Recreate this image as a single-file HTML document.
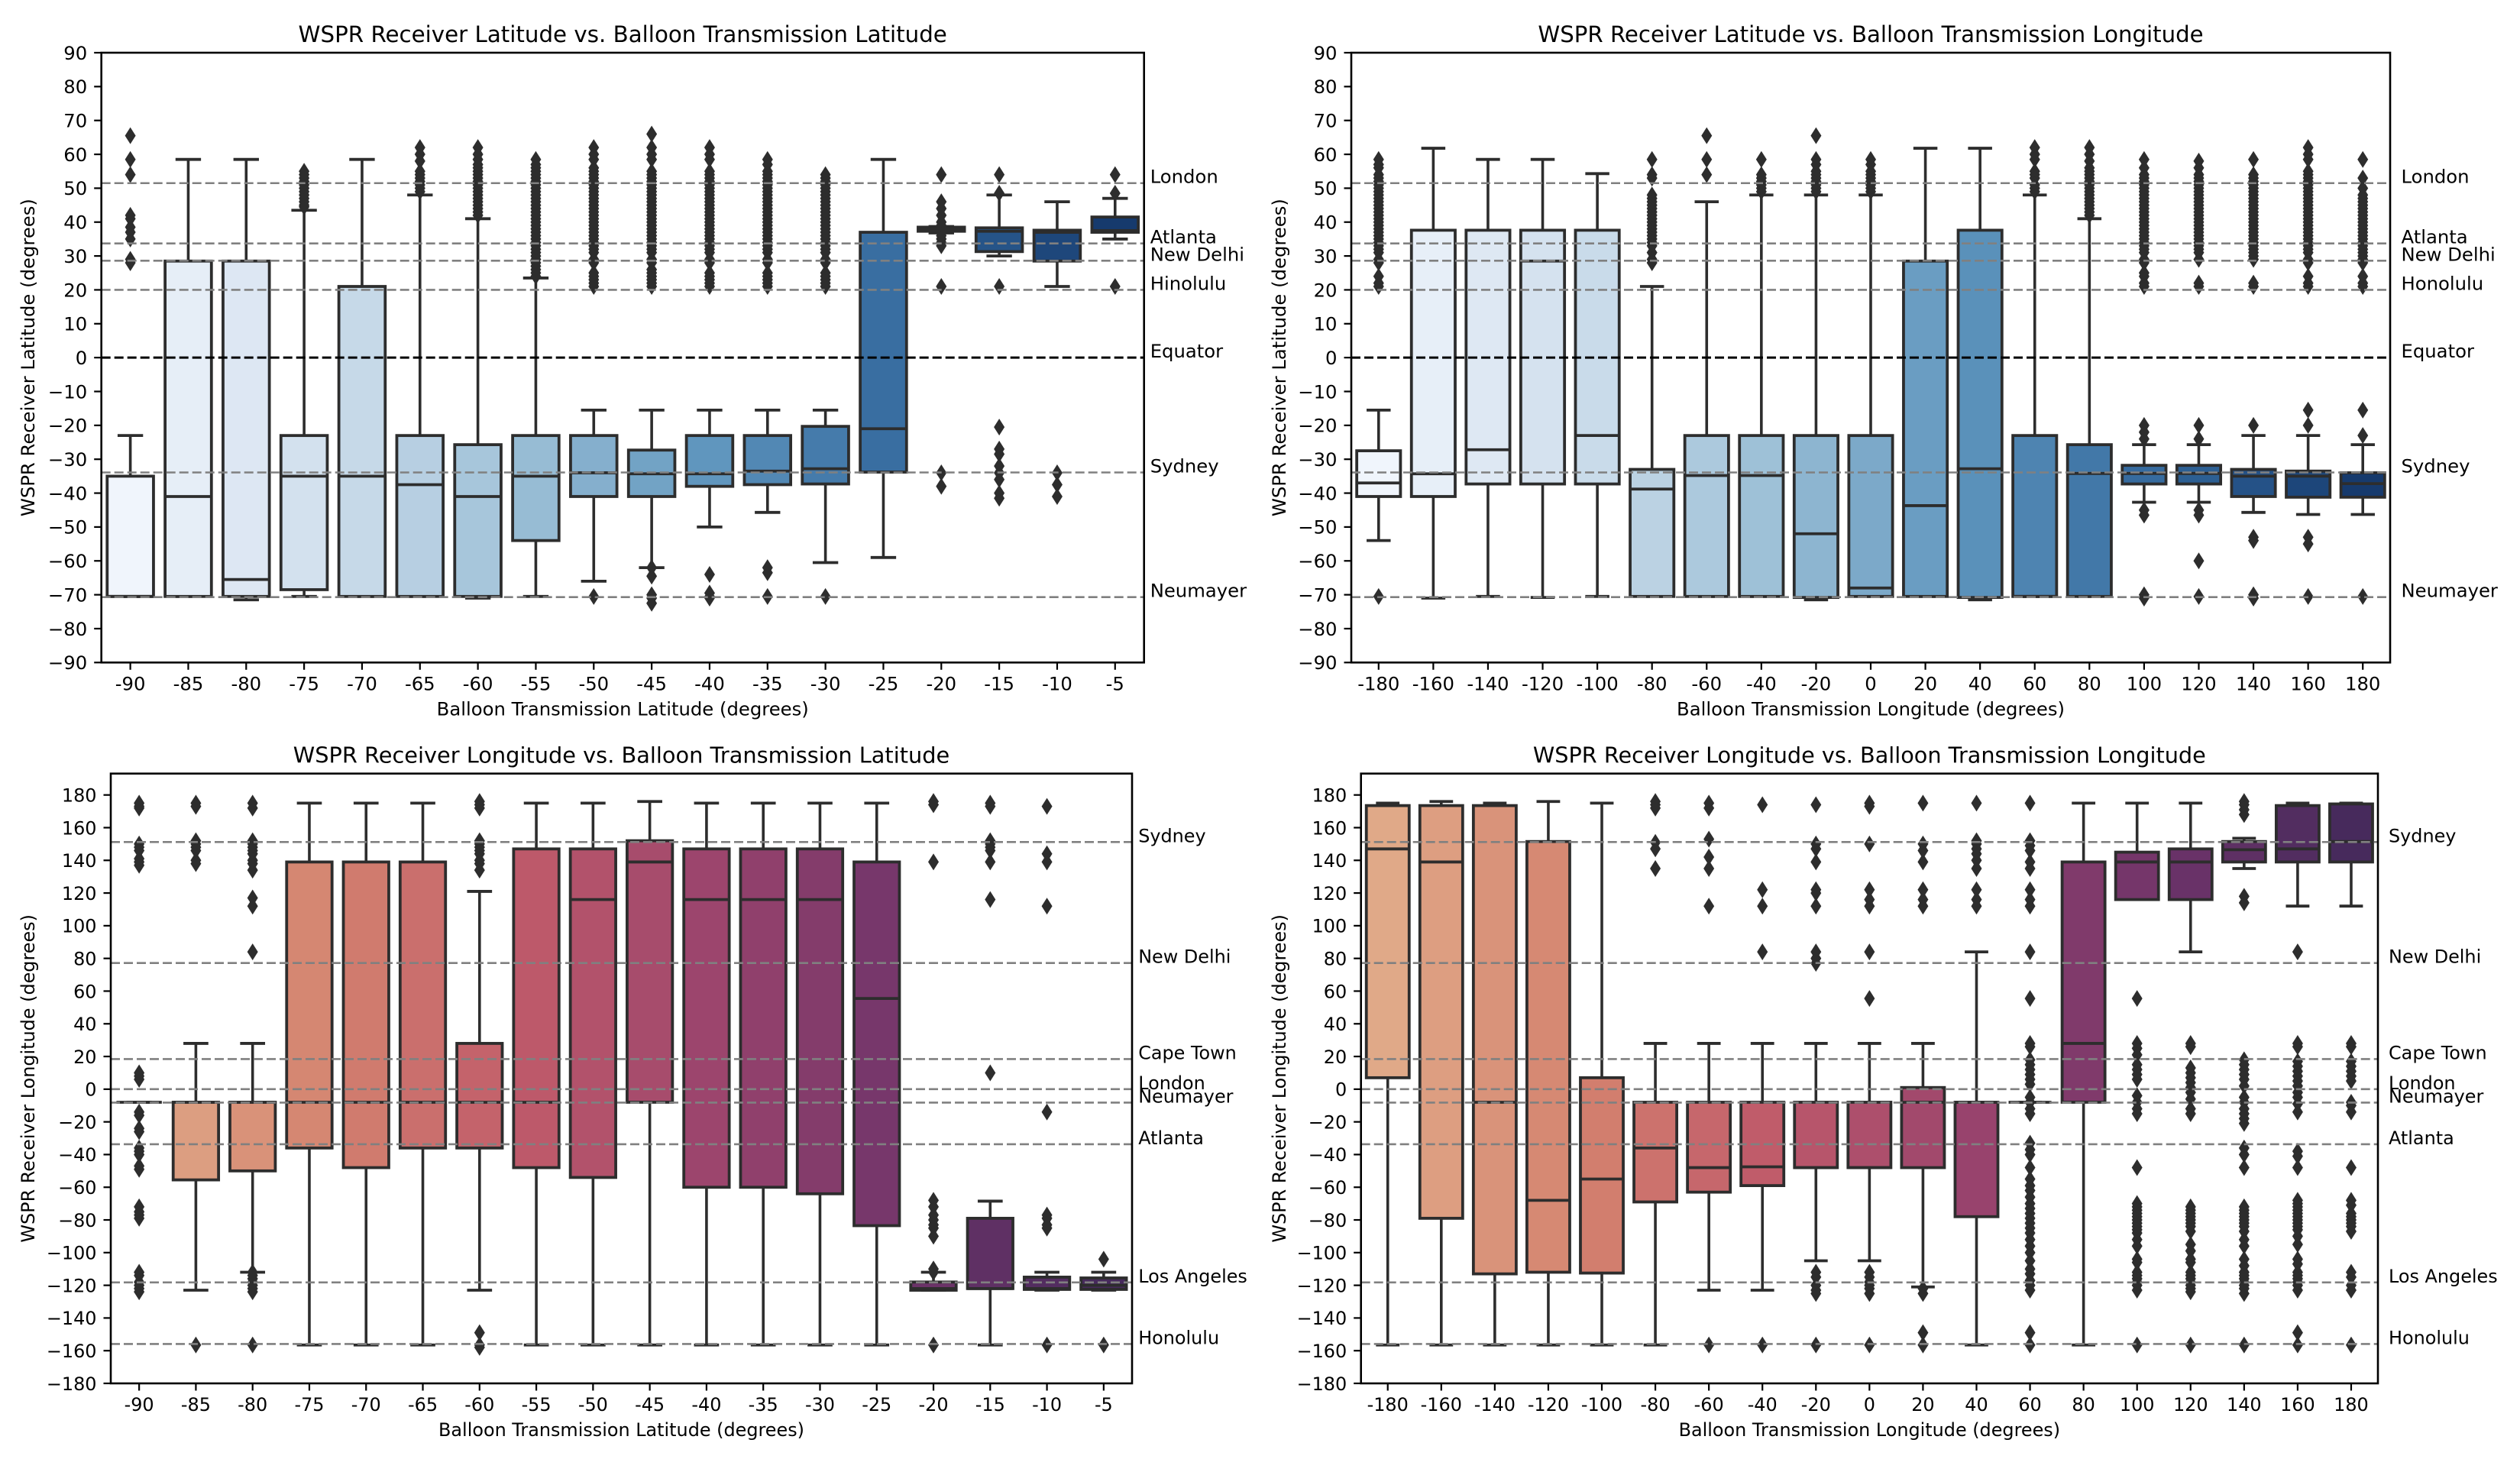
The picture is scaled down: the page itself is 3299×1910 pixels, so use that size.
<!DOCTYPE html>
<html lang="en">
<head>
<meta charset="utf-8">
<title>WSPR Receiver vs. Balloon Transmission Box Plots</title>
<style>
html,body{margin:0;padding:0;background:#fff;width:3299px;height:1910px;overflow:hidden}
svg{display:block}
text{font-family:"DejaVu Sans","Liberation Sans",sans-serif;fill:#000}
</style>
</head>
<body>
<svg id="fig" xmlns="http://www.w3.org/2000/svg" width="3299" height="1910" viewBox="0 0 3299 1910"></svg>
<script>
// ---------- shared categories and ticks ----------
const latCats = [-90,-85,-80,-75,-70,-65,-60,-55,-50,-45,-40,-35,-30,-25,-20,-15,-10,-5];
const lonCats = [-180,-160,-140,-120,-100,-80,-60,-40,-20,0,20,40,60,80,100,120,140,160,180];
const latYTicks = [90,80,70,60,50,40,30,20,10,0,-10,-20,-30,-40,-50,-60,-70,-80,-90];
const lonYTicks = [180,160,140,120,100,80,60,40,20,0,-20,-40,-60,-80,-100,-120,-140,-160,-180];

// ---------- reference lines ----------
const latRefNames = ['London','Atlanta','New Delhi','Equator','Sydney','Neumayer'];
const latRefValues = [51.5,33.7,28.6,0,-33.9,-70.7];
const p1Ref4Name = 'Hinolulu';
const p2Ref4Name = 'Honolulu';
const latRef4Value = 20;
const lonRefNames = ['Sydney','New Delhi','Cape Town','London','Neumayer','Atlanta','Los Angeles','Honolulu'];
const lonRefValues = [151.2,77.2,18.4,0,-8.2,-33.7,-118.2,-155.9];

// ---------- panel 1: receiver latitude vs balloon latitude ----------
const p1Q1  = [-70.5,-70.5,-70.5,-68.5,-70.5,-70.5,-70.5,-54,-41,-41,-38,-37.5,-37.3,-33.8,37.3,31.3,28.5,37];
const p1Med = [-70.5,-41,-65.5,-35,-35,-37.5,-41,-35,-34,-34.3,-34.3,-33.5,-32.8,-21,38,37.3,37,37.5];
const p1Q3  = [-35,28.5,28.5,-23,21,-23,-25.7,-23,-23,-27.3,-23,-23,-20.3,37,38.5,38.3,37.6,41.5];
const p1Lo  = [-70.5,-70.5,-71.5,-70.5,-70.5,-70.5,-71,-70.5,-66,-62,-50,-45.7,-60.5,-59,36.8,30,21,35];
const p1Hi  = [-23,58.5,58.5,43.5,58.5,48,41,23.5,-15.5,-15.5,-15.5,-15.5,-15.5,58.5,38.7,48,46,47];
const p1Out = [
 [65.5,58.5,54,42,41,38.5,37,35,29,28],[],[],
 [55,54,53,52,51,50,49,48,47,46,45,44.5],[],
 [62,60,58,55,54,53,52,51,50,49],
 [62,60,58.5,57,56,55,54,53,52,51,50,49,48,47,46,45,44,43,42],
 [58.5,57,56,55,54,53,52,51,50,49,48,47,46,45,44,43,42,41,40,39,38,37,36,35,34,33,32,31,30,29,28,27,26,25,24],
 [62,60,58.5,56,55,54,53,52,51,50,49,48,47,46,45,44,43,42,41,40,39,38,37,36,35,34,33,32,31,29,28,25,24,23,22,21,-70.5],
 [66,62,60,58.5,55,54,53,52,51,50,49,48,47,46,45,44,43,42,41,40,39,38,37,36,35,34,33,32,31,29,28,26,25,24,23,22,21,-62,-64.5,-70,-71,-72.5],
 [62,60,58.5,55,54,53,52,51,50,49,48,47,46,45,44,43,42,41,40,39,38,37,36,35,34,33,32,31,29,28,25,24,23,22,21,-64,-69.5,-70.5,-71],
 [58.5,57,55,54,53,52,51,50,49,48,47,46,45,44,43,42,41,40,39,38,37,36,35,34,33,32,31,29,28,25,24,23,22,21,-62,-63.5,-70.5],
 [54,53,52,51,50,49,48,47,46,45,44,43,42,41,40,39,38,37,36,35,34,33,32,31,29,28,25,24,23,22,21,-70.5],
 [],
 [54,46,44,42,40,39,36,35,34,33,21,-34,-38],
 [54,48.5,21,-20.5,-27,-28.5,-32,-34,-36,-40,-41.5],
 [-34,-37.5,-41],
 [54,48.5,21]
];

// ---------- panel 2: receiver latitude vs balloon longitude ----------
const p2Q1  = [-41,-41,-37.3,-37.3,-37.3,-70.5,-70.5,-70.5,-70.8,-70.5,-70.5,-70.8,-70.5,-70.5,-37.3,-37.3,-41,-41.2,-41.2];
const p2Med = [-37,-34.3,-27.2,28.5,-23,-38.8,-34.8,-34.8,-52,-68,-43.7,-32.8,-70.5,-34.2,-34.2,-34.2,-35,-35,-37.2];
const p2Q3  = [-27.5,37.6,37.6,37.6,37.6,-33,-23,-23,-23,-23,28.5,37.6,-23,-25.7,-31.8,-31.8,-33,-33.5,-34];
const p2Lo  = [-54,-71,-70.5,-70.8,-70.5,-70.5,-70.5,-70.5,-71.5,-70.5,-70.5,-71.5,-70.5,-70.5,-42.7,-42.7,-45.7,-46.3,-46.3];
const p2Hi  = [-15.5,61.8,58.5,58.5,54.3,21,46,48,48,48,61.8,61.8,48,41,-25.7,-25.7,-23,-23,-25.7];
const p2Out = [
 [58.5,57,56,54,53,52,51,50,49,48,47,46,45,44,43,42,41,40,39,38,37,36,35,34,33,32,31,29,28,24,22,21,-70.5],
 [],[],[],[],
 [58.5,54,53,48,47,46,45,44,43,42,41,40,39,38,37,36,35,34,33,31,29,28],
 [65.5,58.5,54],
 [58.5,54,53,52,51,50,49],
 [65.5,58.5,57,55,54,53,52,51,50,49],
 [58.5,57,55,54,53,52,51,50,49],
 [],[],
 [62,60,58.5,55,54,53,51,50,49],
 [62,60,58,56,55,54,53,52,51,50,49,48,47,46,45,44,43,42],
 [58.5,56,54,53,52,51,50,49,48,47,46,45,44,43,42,41,40,39,38,37,36,35,34,33,32,31,29,28,25,24,22,21,-20,-22,-24,-45,-46.5,-70,-71],
 [58,56,54,53,52,51,50,49,48,47,46,45,44,43,42,41,40,39,38,37,36,35,34,33,32,31,29,22,21,-20,-24,-45,-46.5,-60,-70.5],
 [58.5,54,53,52,51,50,49,48,47,46,45,44,43,42,41,40,39,38,37,36,35,34,33,32,31,30,29,22,21,-20,-53,-54,-70,-71],
 [62,60,58.5,55,54,53,52,51,50,49,48,47,46,45,44,43,42,41,40,39,38,37,36,35,34,33,32,31,29,28,24,22,21,-15.5,-20,-53,-55,-70.5],
 [58.5,53,50,48,47,46,45,44,43,42,41,40,39,38,37,36,35,34,33,32,31,30,29,28,24,22,21,-15.5,-23,-70.5]
];

// ---------- panel 3: receiver longitude vs balloon latitude ----------
const p3Q1  = [-8,-55.5,-50,-36,-48,-36,-36,-48,-54,-8,-60,-60,-64,-83.5,-123,-122,-122.5,-122.5];
const p3Med = [-8,-8,-8,-8,-8,-8,-8,-8,116,139,116,116,116,55.5,-122,-122,-122,-120];
const p3Q3  = [-8,-8,-8,139,139,139,28,147,147,152,147,147,147,139,-118,-79,-115,-115.5];
const p3Lo  = [-8,-123,-112,-156.5,-156.5,-156.5,-123,-156.5,-156.5,-156.5,-156.5,-156.5,-156.5,-156.5,-123,-156.5,-123,-123];
const p3Hi  = [-8,28,28,175,175,175,121,175,175,176,175,175,175,175,-112,-68.5,-112,-112];
const p3Out = [
 [175,173,172,150,148,146,141,139,137,10,8,6,-14,-16,-24,-26,-36,-38,-40,-47,-49,-72,-75,-77,-79,-112,-114,-118,-120,-122,-124],
 [175,173,152,150,148,146,140,138,-156.5],
 [175,172,152,150,148,146,144,140,138,134,117,112,84,-112,-114,-116,-118,-120,-122,-124,-156.5],
 [],[],[],
 [176,174,172,152,150,148,146,144,140,138,134,-149,-156.5,-158],
 [],[],[],[],[],[],[],
 [176,174,139,-68,-72,-77,-80,-83,-85,-90,-110,-112,-156.5],
 [175,173,152,150,148,146,139,116,10],
 [173,144,139,112,-14,-77,-79,-83,-85,-156.5],
 [-104,-156.5]
];

// ---------- panel 4: receiver longitude vs balloon longitude ----------
const p4Q1  = [7,-79,-113,-112,-112.5,-69,-63,-59,-48,-48,-48,-78,-8,-8,116,116,139,139,139];
const p4Med = [147,139,-8,-68,-55,-36,-48,-47.5,-48,-48,-8,-8,-8,28,139,139,146.5,147,151.5];
const p4Q3  = [173.5,173.5,173.5,151.5,7,-8,-8,-8,-8,-8,1,-8,-8,139,145,147,151.5,173.5,174.5];
const p4Lo  = [-156.5,-156.5,-156.5,-156.5,-156.5,-156.5,-123,-123,-105,-105,-121,-156.5,-8,-156.5,116,84,135,112,112];
const p4Hi  = [175,176,175,176,175,28,28,28,28,28,28,84,-8,175,175,175,153.5,175,175];
const p4Out = [
 [],[],[],[],[],
 [176,174,172,151,147,135],
 [175,172,153,142,135,112,-156.5],
 [174,122,112,84,-156.5],
 [174,150,147,139,122,120,112,84,80,77,-112,-115,-120,-123,-125,-156.5],
 [175,173,150,122,116,112,84,55.5,-112,-115,-118,-120,-122,-125,-156.5],
 [175,150,146,139,122,116,112,-122,-125,-149,-156.5],
 [175,152,150,147,144,140,135,122,116,112],
 [175,152,149,146,139,135,122,116,112,84,55.5,28,26,18,15,12,9,6,3,-5,-8,-12,-15,-33,-37,-40,-48,-55,-59,-62,-66,-70,-73,-76,-79,-82,-85,-88,-92,-96,-100,-105,-110,-113,-117,-120,-123,-149,-156.5],
 [],
 [55.5,28,25,21,15,12,9,6,-4,-8,-12,-15,-48,-70,-72,-74,-76,-78,-80,-82,-84,-86,-88,-92,-96,-104,-106,-112,-114,-116,-118,-120,-123,-156.5],
 [28,26,13,10,7,4,1,-2,-6,-12,-15,-72,-74,-76,-78,-80,-82,-84,-87,-95,-99,-104,-106,-112,-114,-116,-118,-120,-122,-124,-156.5],
 [176,174,171,168,118,114,18,15,12,9,6,2,-5,-8,-12,-15,-18,-21,-36,-40,-48,-72,-74,-76,-78,-80,-82,-84,-87,-92,-96,-104,-108,-112,-114,-116,-118,-120,-122,-125,-156.5],
 [84,28,26,17,14,11,8,5,2,-2,-5,-9,-14,-38,-41,-48,-68,-70,-72,-74,-76,-78,-80,-82,-84,-86,-90,-95,-104,-107,-112,-114,-116,-118,-120,-123,-149,-156.5],
 [28,26,17,14,11,8,5,-8,-10,-14,-48,-68,-71,-76,-78,-80,-82,-84,-87,-112,-115,-120,-123,-156.5]
];

// ---------- styling (colour ramps, not data) ----------
const bluesRamp = ['#f0f5fc','#cfdeec','#9bbfd6','#5c93bc','#31669b','#163a6d'];
const flareRamp = ['#e0a988','#d4826f','#bf5a6a','#9a446d','#70346a','#472a5c'];

function hex2rgb(h){return [1,3,5].map(i=>parseInt(h.substr(i,2),16));}
function rampColor(ramp,t){
  const p=t*(ramp.length-1), i=Math.min(Math.floor(p),ramp.length-2), f=p-i;
  const a=hex2rgb(ramp[i]), b=hex2rgb(ramp[i+1]);
  return 'rgb('+a.map((v,k)=>Math.round(v+(b[k]-v)*f)).join(',')+')';
}
const NS='http://www.w3.org/2000/svg';
const fig=document.getElementById('fig');
function mk(parent,tag,attrs,txt){
  const el=document.createElementNS(NS,tag);
  for(const k in attrs) el.setAttribute(k,attrs[k]);
  if(txt!==undefined) el.textContent=txt;
  parent.appendChild(el);
  return el;
}
function tickText(v){return v<0?'\u2212'+Math.abs(v):String(v);}
const INK='#2d2d2d';

function drawPanel(cfg){
  const FS=cfg.fs;
  const yOf=v=>cfg.bottom-(v-cfg.yMin)*(cfg.yPx);
  const step=(cfg.right-cfg.left)/cfg.cats.length;
  const xOf=i=>cfg.left+step*(i+0.5);
  const g=mk(fig,'g',{});
  
  

  // boxes
  cfg.cats.forEach((c,i)=>{
    const x=xOf(i), hw=step*0.4, cw=step*0.22;
    const bg=mk(g,'g',{});
    
    
    const wl=mk(bg,'line',{x1:x,x2:x,y1:yOf(cfg.q3[i]),y2:yOf(cfg.hi[i]),stroke:INK,'stroke-width':3.6});
    
    
    const wd=mk(bg,'line',{x1:x,x2:x,y1:yOf(cfg.q1[i]),y2:yOf(cfg.lo[i]),stroke:INK,'stroke-width':3.6});
    
    
    const cu=mk(bg,'line',{x1:x-cw,x2:x+cw,y1:yOf(cfg.hi[i]),y2:yOf(cfg.hi[i]),stroke:INK,'stroke-width':3.8});
    
    
    const cd=mk(bg,'line',{x1:x-cw,x2:x+cw,y1:yOf(cfg.lo[i]),y2:yOf(cfg.lo[i]),stroke:INK,'stroke-width':3.8});
    
    
    const r=mk(bg,'rect',{x:x-hw,y:yOf(cfg.q3[i]),width:hw*2,height:Math.max(0,yOf(cfg.q1[i])-yOf(cfg.q3[i])),fill:rampColor(cfg.ramp,i/(cfg.cats.length-1)),stroke:INK,'stroke-width':3.8});
    
    
    const m=mk(bg,'line',{x1:x-hw,x2:x+hw,y1:yOf(cfg.med[i]),y2:yOf(cfg.med[i]),stroke:INK,'stroke-width':3.8});
    
    
    cfg.out[i].forEach(v=>{
      const yy=yOf(v);
      const d=mk(bg,'polygon',{points:(x)+','+(yy-11)+' '+(x+7)+','+yy+' '+(x)+','+(yy+11)+' '+(x-7)+','+yy,fill:INK});
      
      
    });
  });

  // reference lines and their labels
  cfg.refNames.forEach((n,i)=>{
    const yy=yOf(cfg.refValues[i]);
    const eq=n==='Equator';
    const l=mk(g,'line',{x1:cfg.left,x2:cfg.right,y1:yy,y2:yy,stroke:eq?'#000':'#808080','stroke-width':eq?3:2.6,'stroke-dasharray':'12 5'});
    
    
    const t=mk(g,'text',{x:cfg.right+cfg.labelGap,y:yy,'font-size':FS},n);
    
    
  });

  // spines
  const s=mk(g,'rect',{x:cfg.left,y:cfg.top,width:cfg.right-cfg.left,height:cfg.bottom-cfg.top,fill:'none',stroke:'#000','stroke-width':2.6});
  
  

  // y ticks
  cfg.yTicks.forEach(v=>{
    const yy=yOf(v);
    const tk=mk(g,'line',{x1:cfg.left-9.5,x2:cfg.left,y1:yy,y2:yy,stroke:'#000','stroke-width':2.2});
    
    
    const t=mk(g,'text',{x:cfg.left-18.5,y:yy+8.8,'font-size':FS,'text-anchor':'end'},tickText(v));
    
    
  });
  // x ticks
  cfg.cats.forEach((c,i)=>{
    const x=xOf(i);
    const tk=mk(g,'line',{x1:x,x2:x,y1:cfg.bottom,y2:cfg.bottom+9.5,stroke:'#000','stroke-width':2.2});
    
    
    const t=mk(g,'text',{x:x,y:cfg.bottom+36,'font-size':FS,'text-anchor':'middle'},String(c));
    
    
  });

  // titles
  const cx=(cfg.left+cfg.right)/2, cy=(cfg.top+cfg.bottom)/2;
  const ti=mk(g,'text',{x:cx,y:cfg.top-14,'font-size':cfg.titleFs,'text-anchor':'middle'},cfg.title);
  
  
  const xt=mk(g,'text',{x:cx,y:cfg.bottom+69,'font-size':FS,'text-anchor':'middle'},cfg.xLabel);
  
  
  const yt=mk(g,'text',{x:0,y:0,'font-size':FS,'text-anchor':'middle',transform:'translate('+cfg.yLabelX+','+cy+') rotate(-90)'},cfg.yLabel);
  
  
}

const latPx=(867.3-69)/180, lonPx=(1811-1040.7)/360;
drawPanel({id:'panel-lat-vs-lat',left:132.7,right:1497.7,top:69,bottom:867.3,yMin:-90,yPx:latPx,cats:latCats,yTicks:latYTicks,fs:24.3,titleFs:29.3,
  q1:p1Q1,med:p1Med,q3:p1Q3,lo:p1Lo,hi:p1Hi,out:p1Out,ramp:bluesRamp,
  refNames:latRefNames.concat([p1Ref4Name]),refValues:latRefValues.concat([latRef4Value]),labelGap:8,yLabelX:45,
  title:'WSPR Receiver Latitude vs. Balloon Transmission Latitude',xLabel:'Balloon Transmission Latitude (degrees)',yLabel:'WSPR Receiver Latitude (degrees)'});
drawPanel({id:'panel-lat-vs-lon',left:1769,right:3129,top:69,bottom:867.3,yMin:-90,yPx:latPx,cats:lonCats,yTicks:latYTicks,fs:24.3,titleFs:29.2,
  q1:p2Q1,med:p2Med,q3:p2Q3,lo:p2Lo,hi:p2Hi,out:p2Out,ramp:bluesRamp,
  refNames:latRefNames.concat([p2Ref4Name]),refValues:latRefValues.concat([latRef4Value]),labelGap:14.5,yLabelX:1683,
  title:'WSPR Receiver Latitude vs. Balloon Transmission Longitude',xLabel:'Balloon Transmission Longitude (degrees)',yLabel:'WSPR Receiver Latitude (degrees)'});
drawPanel({id:'panel-lon-vs-lat',left:145,right:1482,top:1012.7,bottom:1811,yMin:-180,yPx:lonPx,cats:latCats,yTicks:lonYTicks,fs:23.9,titleFs:28.8,
  q1:p3Q1,med:p3Med,q3:p3Q3,lo:p3Lo,hi:p3Hi,out:p3Out,ramp:flareRamp,
  refNames:lonRefNames,refValues:lonRefValues,labelGap:8.2,yLabelX:45,
  title:'WSPR Receiver Longitude vs. Balloon Transmission Latitude',xLabel:'Balloon Transmission Latitude (degrees)',yLabel:'WSPR Receiver Longitude (degrees)'});
drawPanel({id:'panel-lon-vs-lon',left:1781.7,right:3113,top:1012.7,bottom:1811,yMin:-180,yPx:lonPx,cats:lonCats,yTicks:lonYTicks,fs:23.9,titleFs:28.7,
  q1:p4Q1,med:p4Med,q3:p4Q3,lo:p4Lo,hi:p4Hi,out:p4Out,ramp:flareRamp,
  refNames:lonRefNames,refValues:lonRefValues,labelGap:14,yLabelX:1683,
  title:'WSPR Receiver Longitude vs. Balloon Transmission Longitude',xLabel:'Balloon Transmission Longitude (degrees)',yLabel:'WSPR Receiver Longitude (degrees)'});
</script>
</body>
</html>
